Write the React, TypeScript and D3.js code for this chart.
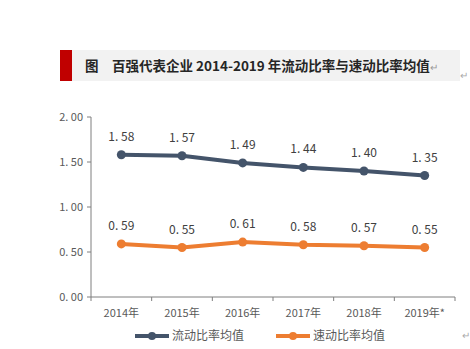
import React from "react";
import * as d3 from "d3";

const categories = ["2014年", "2015年", "2016年", "2017年", "2018年", "2019年*"];
const currentRatio = [1.58, 1.57, 1.49, 1.44, 1.4, 1.35];
const quickRatio = [0.59, 0.55, 0.61, 0.58, 0.57, 0.55];
const yTicks = [0, 0.5, 1, 1.5, 2];
const seriesNames = ["流动比率均值", "速动比率均值"];
const title = "百强代表企业 2014-2019 年流动比率与速动比率均值";

const W = 470;
const H = 349;
const left = 91;
const right = 455;
const top = 117;
const bottom = 297;

const fmt = (v: number) => d3.format(".2f")(v).replace(".", ". ");

export default function App() {
  const x = d3.scaleBand<string>().domain(categories).range([left, right]);
  const y = d3.scaleLinear().domain([0, 2]).range([bottom, top]);
  const line = d3
    .line<number>()
    .x((_, i) => (x(categories[i]) as number) + x.bandwidth() / 2)
    .y((d) => y(d));

  const series = [
    { name: seriesNames[0], data: currentRatio, color: "#44546A" },
    { name: seriesNames[1], data: quickRatio, color: "#ED7D31" },
  ];
  const font = "'Noto Sans CJK SC', 'Noto Sans', sans-serif";
  const tickPositions = categories.map((c) => x(c) as number).concat([right]);

  return (
    <svg
      width={W}
      height={H}
      style={{ position: "absolute", left: 0, top: 0, background: "#fff" }}
      fontFamily={font}
    >
      {/* title */}
      <rect x={60} y={50} width={12} height={31} fill="#C00000" />
      <rect x={72} y={50} width={388} height={31} fill="#F2F2F2" />
      <text x={85} y={71} fontSize={13.5} fontWeight={700} fill="#262626">
        图
      </text>
      <text x={112} y={71} fontSize={13.5} fontWeight={700} fill="#262626">
        {title}
        <tspan fontSize={10} fontWeight={400} fill="#999">↵</tspan>
      </text>
      <text x={460} y={79} fontSize={10} fill="#aaa">↵</text>
      <text x={462} y={339} fontSize={10} fill="#aaa">↵</text>

      {/* y axis */}
      <line x1={left} x2={left} y1={top} y2={bottom} stroke="#7F7F7F" />
      {yTicks.map((t) => (
        <g key={t}>
          <line x1={left - 4} x2={left} y1={y(t)} y2={y(t)} stroke="#7F7F7F" />
          <text
            x={left - 8}
            y={y(t)}
            dy="0.35em"
            textAnchor="end"
            fontSize={11}
            fill="#595959"
          >
            {fmt(t)}
          </text>
        </g>
      ))}
      {/* x axis */}
      <line x1={left} x2={right} y1={bottom} y2={bottom} stroke="#7F7F7F" />
      {tickPositions.map((p, i) => (
        <line key={i} x1={p} x2={p} y1={bottom} y2={bottom + 4} stroke="#7F7F7F" />
      ))}
      {categories.map((c) => (
        <text
          key={c}
          x={(x(c) as number) + x.bandwidth() / 2}
          y={317}
          textAnchor="middle"
          fontSize={11}
          fill="#595959"
        >
          {c}
        </text>
      ))}

      {/* series */}
      {series.map((s) => (
        <g key={s.name}>
          <path
            d={line(s.data) || ""}
            fill="none"
            stroke={s.color}
            strokeWidth={4}
            strokeLinejoin="round"
            strokeLinecap="round"
          />
          {s.data.map((v, i) => {
            const cx = (x(categories[i]) as number) + x.bandwidth() / 2;
            return (
              <g key={i}>
                <circle cx={cx} cy={y(v)} r={4.5} fill={s.color} />
                <text
                  x={cx}
                  y={y(v) - 14}
                  textAnchor="middle"
                  fontSize={12}
                  fill="#404040"
                >
                  {fmt(v)}
                </text>
              </g>
            );
          })}
        </g>
      ))}

      {/* legend */}
      {series.map((s, i) => {
        const lx = i === 0 ? 135 : 276;
        return (
          <g key={s.name}>
            <line
              x1={lx}
              x2={lx + 34}
              y1={336}
              y2={336}
              stroke={s.color}
              strokeWidth={4}
            />
            <circle cx={lx + 17} cy={336} r={4} fill={s.color} />
            <text x={lx + 37} y={336} dy="0.35em" fontSize={12} fill="#595959">
              {s.name}
            </text>
          </g>
        );
      })}
    </svg>
  );
}
